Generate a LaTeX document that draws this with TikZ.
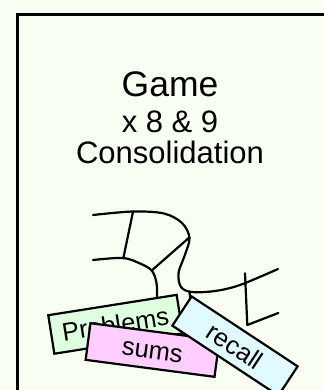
\documentclass[tikz,border=0pt]{standalone}
\usepackage{fontspec}
\setmainfont{Liberation Sans}
\begin{document}
\begin{tikzpicture}[x=1bp,y=-1bp,
  ln/.style={line width=2.2bp,line cap=round,line join=round},
  card/.style={draw,line width=2.2bp,rectangle,inner sep=0pt,
    font=\fontsize{25.5bp}{28bp}\selectfont,text height=18bp,text depth=0bp},
  title/.style={anchor=base,inner sep=0pt}]
\useasboundingbox (0,0) rectangle (324,390);
\clip (0,0) rectangle (324,390);
\fill[fill={rgb,255:red,248;green,255;blue,242}] (0,0) rectangle (324,390);
% frame
\draw[line width=2.6bp] (17.5,395) -- (17.5,14.2) -- (330,14.2);
% titles
\node[title,font=\fontsize{35.5bp}{38bp}\selectfont] (t1) at (170,96) {Game};
\node[title,font=\fontsize{31bp}{35bp}\selectfont] (t2) at (170,132.7) {x 8 \& 9};
\node[title,font=\fontsize{31bp}{35bp}\selectfont] (t3) at (170,163) {Consolidation};
% scribble
\draw[ln] plot[smooth,tension=0.55] coordinates {(93,215) (133,211.5) (164,213.5) (182,223) (189.5,238) (184.5,256) (178.5,273) (181,287) (192,292) (215,291) (240,285) (278,269)};
\draw[ln] (133,211.7) -- (123.3,258.3);
\draw[ln] plot[smooth,tension=0.55] coordinates {(93,260) (123,258) (140,263.5) (151.7,270.5) (156.5,283) (157,300)};
\draw[ln] (151.7,270.5) -- (189.3,237.5);
\draw[ln] (245,273.3) -- (247.3,325);
\draw[ln] (247.3,325) -- (278.3,313);
\draw[ln] (189.5,292) -- (191,305);
% cards
\node[card,fill={rgb,255:red,222;green,255;blue,224},minimum width=130bp,minimum height=39bp,rotate=9] (p) at (115.5,324.3) {Problems};
\node[card,fill={rgb,255:red,255;green,206;blue,255},minimum width=130bp,minimum height=37bp,rotate=-7.5] (s) at (152.5,350) {sums};
\node[card,fill={rgb,255:red,224;green,250;blue,255},minimum width=127bp,minimum height=35bp,rotate=-33.4] (r) at (235,346) {recall};
\end{tikzpicture}
\end{document}
